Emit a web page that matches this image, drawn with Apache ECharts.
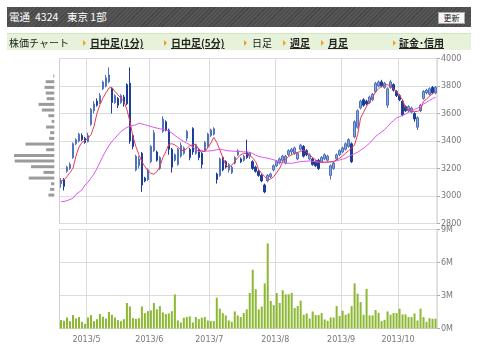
<!DOCTYPE html>
<html>
<head>
<meta charset="utf-8">
<script src="https://cdn.jsdelivr.net/npm/echarts@6/dist/echarts.min.js"></script>
<style>
  body { margin: 0; background: #fff; font-family: "Noto Sans CJK JP", sans-serif; }
  #chart { position: absolute; left: 0; top: 0; width: 480px; height: 353px; }
  #head {
    position: absolute; left: 7px; top: 7px; width: 464px; height: 20px;
    background: repeating-linear-gradient(135deg, #474747 0 1px, #555 1px 3px);
    color: #fff; font-size: 10.5px;
  }
  #head span { position: absolute; top: 0; line-height: 20px; }
  #btn {
    position: absolute; left: 431px; top: 5px; width: 25px; height: 10px;
    background: #f6f6f6; border: 1px solid #aaa; color: #222;
    font-size: 8px; line-height: 10px; text-align: center;
  }
  #nav {
    position: absolute; left: 7px; top: 33px; width: 464px; height: 16px;
    background: #e6f2da; border-top: 1px solid #d3e4c2;
    font-size: 10px; color: #222;
  }
  #nav span { position: absolute; top: 0; line-height: 17px; white-space: nowrap; }
  #nav .lnk { font-weight: bold; text-decoration: underline; }
  #nav .tri {
    width: 0; height: 0; top: 6px;
    border-left: 3px solid #f0a028; border-top: 3px solid transparent; border-bottom: 3px solid transparent;
  }
</style>
</head>
<body>
<div id="chart"></div>
<div id="head">
  <span style="left:2px">電通</span>
  <span style="left:28px">4324</span>
  <span style="left:60px">東京 1部</span>
  <div id="btn">更新</div>
</div>
<div id="nav">
  <span style="left:2px">株価チャート</span>
  <span class="tri" style="left:76px"></span>
  <span class="lnk" style="left:83px">日中足(1分)</span>
  <span class="tri" style="left:157px"></span>
  <span class="lnk" style="left:164px">日中足(5分)</span>
  <span class="tri" style="left:237px"></span>
  <span style="left:245px">日足</span>
  <span class="tri" style="left:276px"></span>
  <span class="lnk" style="left:283px">週足</span>
  <span class="tri" style="left:314px"></span>
  <span class="lnk" style="left:321px">月足</span>
  <span class="tri" style="left:386px"></span>
  <span class="lnk" style="left:392px">証金･信用</span>
</div>
<script>
// trading days shown on the chart
const dates = [
  '2013/4/17','2013/4/18','2013/4/19','2013/4/22','2013/4/23','2013/4/24','2013/4/25','2013/4/26','2013/4/30',
  '2013/5/1','2013/5/2','2013/5/7','2013/5/8','2013/5/9','2013/5/10','2013/5/13','2013/5/14','2013/5/15','2013/5/16','2013/5/17',
  '2013/5/20','2013/5/21','2013/5/22','2013/5/23','2013/5/24','2013/5/27','2013/5/28','2013/5/29','2013/5/30','2013/5/31',
  '2013/6/3','2013/6/4','2013/6/5','2013/6/6','2013/6/7','2013/6/10','2013/6/11','2013/6/12','2013/6/13','2013/6/14',
  '2013/6/17','2013/6/18','2013/6/19','2013/6/20','2013/6/21','2013/6/24','2013/6/25','2013/6/26','2013/6/27','2013/6/28',
  '2013/7/1','2013/7/2','2013/7/3','2013/7/4','2013/7/5','2013/7/8','2013/7/9','2013/7/10','2013/7/11','2013/7/12',
  '2013/7/16','2013/7/17','2013/7/18','2013/7/19','2013/7/22','2013/7/23','2013/7/24','2013/7/25','2013/7/26',
  '2013/7/29','2013/7/30','2013/7/31',
  '2013/8/1','2013/8/2','2013/8/5','2013/8/6','2013/8/7','2013/8/8','2013/8/9','2013/8/12','2013/8/13','2013/8/14',
  '2013/8/15','2013/8/16','2013/8/19','2013/8/20','2013/8/21','2013/8/22','2013/8/23','2013/8/26','2013/8/27','2013/8/28',
  '2013/8/29','2013/8/30',
  '2013/9/2','2013/9/3','2013/9/4','2013/9/5','2013/9/6','2013/9/9','2013/9/10','2013/9/11','2013/9/12','2013/9/13',
  '2013/9/17','2013/9/18','2013/9/19','2013/9/20','2013/9/24','2013/9/25','2013/9/26','2013/9/27','2013/9/30',
  '2013/10/1','2013/10/2','2013/10/3','2013/10/4','2013/10/7','2013/10/8','2013/10/9','2013/10/10','2013/10/11',
  '2013/10/15','2013/10/16','2013/10/17','2013/10/18'
]

const opens = [
  3090,3120,3180,3200,3280,3380,3400,3440,3420,3395,3520,3620,3690,3680,3780,3800,3830,3780,3680,3710,
  3680,3720,3810,3820,3440,3190,3220,3310,3130,3120,3250,3330,3320,3200,3470,3540,3480,3340,3260,3230,
  3290,3310,3420,3340,3490,3310,3340,3310,3330,3360,3440,3450,3160,3150,3280,3250,3190,3170,3240,3300,
  3270,3260,3320,3290,3250,3210,3180,3150,3080,3110,3140,3190,3220,3240,3260,3240,3300,3320,3310,3270,
  3340,3360,3330,3270,3270,3250,3260,3250,3270,3260,3150,3200,3270,3300,3320,3340,3360,3380,3430,3500,
  3640,3700,3690,3680,3700,3760,3800,3830,3790,3660,3790,3810,3760,3730,3690,3650,3620,3610,3600,3500,
  3620,3710,3750,3740,3790,3750
]
const closes = [
  3110,3070,3210,3230,3380,3410,3450,3410,3390,3440,3630,3670,3660,3730,3830,3860,3880,3680,3730,3660,
  3730,3670,3670,3400,3360,3290,3270,3080,3110,3190,3360,3460,3260,3280,3560,3480,3340,3210,3300,3340,
  3370,3350,3470,3280,3320,3370,3280,3230,3390,3450,3480,3490,3120,3270,3190,3210,3230,3210,3280,3330,
  3250,3290,3280,3310,3200,3180,3150,3110,3030,3150,3160,3220,3250,3270,3290,3290,3330,3340,3350,3310,
  3370,3290,3300,3300,3230,3220,3200,3280,3300,3290,3220,3240,3300,3330,3350,3380,3410,3250,3540,3620,
  3690,3660,3670,3720,3740,3820,3830,3800,3820,3780,3830,3770,3730,3700,3590,3620,3650,3640,3560,3570,
  3660,3760,3770,3780,3750,3790
]
const lows = [
  3060,3040,3170,3190,3270,3370,3390,3400,3380,3390,3510,3600,3650,3670,3770,3790,3820,3600,3670,3640,
  3670,3650,3660,3380,3340,3180,3200,3030,3100,3110,3240,3320,3250,3190,3460,3470,3300,3170,3250,3220,
  3280,3300,3400,3260,3300,3300,3260,3200,3320,3350,3430,3440,3090,3140,3180,3200,3170,3160,3230,3290,
  3240,3250,3270,3270,3190,3170,3140,3100,3020,3100,3130,3180,3210,3230,3250,3230,3290,3300,3300,3260,
  3330,3280,3290,3260,3220,3210,3190,3240,3260,3250,3120,3190,3260,3290,3310,3330,3350,3240,3420,3490,
  3630,3650,3660,3670,3690,3750,3790,3790,3780,3640,3780,3760,3720,3690,3580,3610,3610,3600,3540,3480,
  3610,3700,3740,3730,3740,3740
]
const highs = [
  3130,3130,3220,3245,3390,3420,3460,3455,3430,3460,3640,3690,3710,3750,3840,3880,3935,3790,3740,3720,
  3740,3735,3820,3935,3450,3300,3290,3320,3140,3200,3370,3480,3330,3290,3580,3550,3490,3350,3310,3350,
  3390,3360,3480,3350,3500,3380,3350,3320,3400,3460,3490,3500,3170,3280,3290,3260,3240,3220,3290,3340,
  3280,3300,3410,3320,3260,3220,3190,3160,3090,3160,3170,3230,3260,3280,3300,3300,3340,3350,3360,3320,
  3380,3370,3340,3310,3280,3260,3270,3290,3310,3300,3230,3250,3310,3340,3360,3390,3420,3390,3550,3630,
  3700,3710,3700,3730,3750,3830,3840,3845,3830,3790,3845,3820,3770,3740,3700,3660,3660,3650,3610,3580,
  3670,3770,3780,3790,3800,3800
]

// moving averages
const maShort = [
  3109,3117,3141,3170,3202,3290,3355,3390,3401,3420,3445,3506,3600,3664,3713,3750,3785,3790,3760,3737,
  3712,3688,3628,3542,3433,3360,3300,3250,3214,3185,3165,3158,3177,3214,3280,3323,3377,3380,3372,3355,
  3336,3328,3345,3367,3372,3377,3336,3328,3323,3350,3384,3426,3390,3336,3280,3226,3207,3225,3250,3280,
  3299,3311,3305,3299,3275,3250,3190,3165,3141,3117,3125,3141,3170,3202,3250,3268,3287,3300,3311,3318,
  3323,3336,3318,3299,3280,3263,3246,3246,3246,3246,3248,3250,3262,3275,3293,3311,3330,3348,3372,3445,
  3567,3610,3652,3685,3713,3761,3780,3798,3805,3810,3798,3780,3761,3730,3700,3640,3628,3615,3615,3615,
  3628,3688,3705,3725,3745,3761
]
const maLong = [
  2958,2960,2966,2975,2983,3012,3028,3044,3080,3100,3129,3160,3200,3245,3290,3330,3365,3396,3420,3445,
  3469,3484,3499,3506,3513,3518,3530,3524,3518,3512,3506,3499,3494,3489,3484,3479,3474,3458,3441,3425,
  3409,3396,3384,3372,3356,3339,3323,3325,3326,3327,3328,3332,3336,3340,3336,3332,3328,3327,3325,3324,
  3323,3321,3320,3318,3308,3297,3287,3283,3279,3275,3269,3263,3256,3250,3244,3238,3238,3238,3242,3246,
  3250,3252,3253,3255,3252,3249,3246,3246,3246,3246,3249,3252,3255,3262,3268,3275,3287,3299,3308,3318,
  3333,3348,3366,3384,3408,3433,3449,3466,3482,3506,3530,3548,3567,3577,3587,3596,3608,3620,3630,3640,
  3655,3669,3682,3695,3708,3718
]

// volume, millions of shares
const volumes = [
  0.76,0.70,1.0,0.67,1.22,0.91,1.04,0.61,0.43,1.0,1.22,0.67,0.85,1.31,1.07,0.91,1.5,1.25,1.0,0.76,
  0.67,0.85,2.32,2.0,0.94,0.88,0.94,2.0,1.4,1.58,1.65,2.32,1.74,2.04,1.46,1.31,1.37,1.58,3.1,0.73,
  0.55,0.98,1.04,1.1,0.55,1.04,0.85,0.98,1.04,0.73,0.67,0.67,2.8,1.8,1.4,1.19,0.73,0.61,1.55,1.19,
  1.04,1.4,1.74,3.23,5.34,3.57,1.74,2.0,4.1,7.74,2.5,2.13,3.23,2.32,3.48,3.1,3.1,3.23,1.86,2.04,
  2.53,1.25,1.37,0.91,1.55,1.22,1.22,1.4,0.82,0.7,1.0,1.0,2.04,1.13,1.62,1.25,1.37,2.04,4.1,3.17,
  2.4,1.25,3.6,1.19,1.19,1.68,1.43,0.67,0.79,1.55,1.25,1.4,1.4,1.8,1.28,1.28,1.04,1.04,1.37,0.73,
  1.8,1.04,0.61,0.94,0.88,0.9
]

// volume by price (left side), bottom bin first
const profilePrices = [
  '3020','3061','3102','3142','3183','3224','3265','3306','3346','3387','3428',
  '3469','3510','3550','3591','3632','3673','3714','3754','3795','3836','3877'
]
const profileVolumes = [
  6,4.3,3.3,26,11,23.7,40.3,41,8.3,29.3,5.3,
  4.3,8.3,2.7,6,12.7,16,7.7,8.7,10,8.7,1
]

const monthStart = (i, v) => i > 0 && v.split('/')[1] !== dates[i - 1].split('/')[1]
const gridLine = { show: true, lineStyle: { color: '#dcdcdc', width: 1 } }
const labelFont = { color: '#777', fontSize: 8, fontFamily: 'DejaVu Sans' }

let candles = []
opens.forEach((o, i) => {
    candles.push([o, closes[i], lows[i], highs[i]])
})

let myChart = echarts.init(document.getElementById('chart'))
let option = {
    animation: false,
    grid: [
        { left: 59.5, right: 43, top: 58.5, height: 165, show: true, borderColor: '#d0d0d0' },
        { left: 59.5, right: 43, top: 229.5, height: 99, show: true, borderColor: '#d0d0d0' },
        { left: 13, width: 41.3, top: 73.2, height: 124.7 }
    ],
    xAxis: [
        {
            type: 'category', gridIndex: 0, data: dates,
            axisLine: { show: false }, axisTick: { show: false }, axisLabel: { show: false },
            splitLine: Object.assign({ interval: monthStart }, gridLine)
        },
        {
            type: 'category', gridIndex: 1, data: dates,
            axisLine: { show: false }, axisTick: { show: false },
            axisLabel: Object.assign({
                interval: monthStart, margin: 7, padding: [0, 3, 0, 0],
                formatter: v => v.split('/').slice(0, 2).join('/')
            }, labelFont),
            splitLine: Object.assign({ interval: monthStart }, gridLine)
        },
        { type: 'value', gridIndex: 2, inverse: true, min: 0, max: 42, show: false }
    ],
    yAxis: [
        {
            type: 'value', gridIndex: 0, position: 'right', min: 2800, max: 4000, interval: 200,
            axisLine: { show: false },
            axisTick: { show: true, length: 3, lineStyle: { color: '#aaa' } },
            axisLabel: Object.assign({ margin: 4, formatter: v => String(v) }, labelFont),
            splitLine: gridLine
        },
        {
            type: 'value', gridIndex: 1, position: 'right', min: 0, max: 9, interval: 3,
            axisLine: { show: false },
            axisTick: { show: true, length: 3, lineStyle: { color: '#aaa' } },
            axisLabel: Object.assign({ margin: 4, formatter: '{value}M' }, labelFont),
            splitLine: gridLine
        },
        { type: 'category', gridIndex: 2, data: profilePrices, show: false }
    ],
    series: [
        {
            type: 'candlestick', xAxisIndex: 0, yAxisIndex: 0, data: candles, barWidth: 2,
            itemStyle: {
                color: '#8aa6da', color0: '#1d3c9c',
                borderColor: '#4f73bd', borderColor0: '#1d3c9c', borderWidth: 1
            }
        },
        {
            type: 'line', xAxisIndex: 0, yAxisIndex: 0, data: maLong, symbol: 'none',
            lineStyle: { color: '#e052f2', width: 1 }
        },
        {
            type: 'line', xAxisIndex: 0, yAxisIndex: 0, data: maShort, symbol: 'none',
            lineStyle: { color: '#ea3a52', width: 1 }
        },
        {
            type: 'bar', xAxisIndex: 1, yAxisIndex: 1, data: volumes, barWidth: 2,
            itemStyle: { color: '#8cb833' }
        },
        {
            type: 'bar', xAxisIndex: 2, yAxisIndex: 2, data: profileVolumes, barWidth: 3,
            itemStyle: { color: '#9b9b9b' }
        }
    ]
}
option && myChart.setOption(option)
</script>
</body>
</html>
